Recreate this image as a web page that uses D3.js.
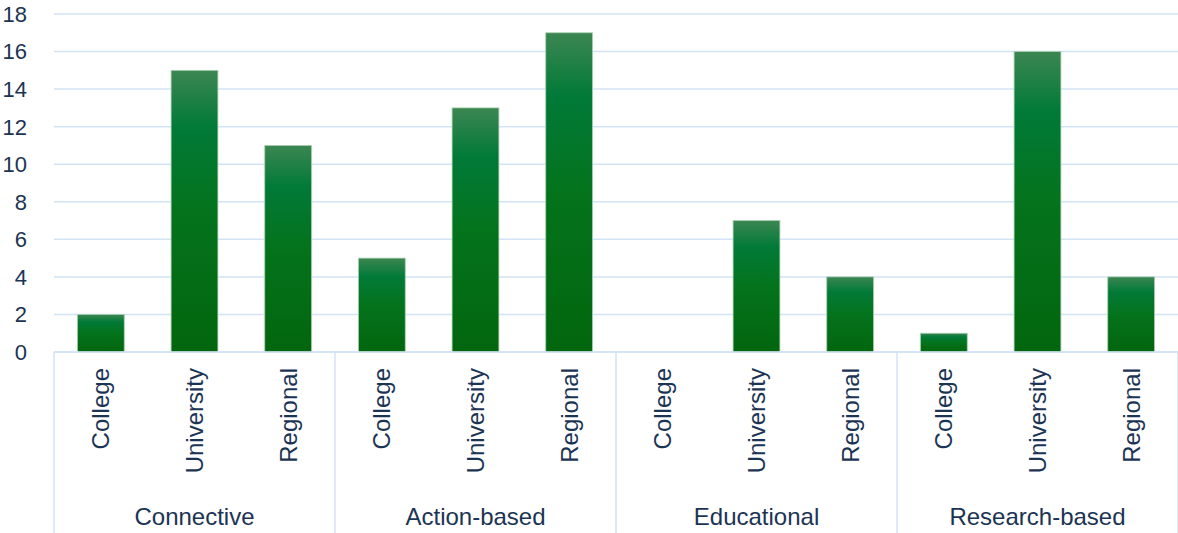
<!DOCTYPE html>
<html>
<head>
<meta charset="utf-8">
<script src="https://cdn.jsdelivr.net/npm/d3@7"></script>
<style>
  body { margin: 0; background: #fff; }
  text { font-family: "Liberation Sans", Arial, sans-serif; fill: #1c3454; }
</style>
</head>
<body>
<svg id="chart" width="1178" height="533"></svg>
<script>
const groups = ["Connective", "Action-based", "Educational", "Research-based"];
const types = ["College", "University", "Regional"];
const connective = [2, 15, 11];
const actionBased = [5, 13, 17];
const educational = [0, 7, 4];
const researchBased = [1, 16, 4];
const yTicks = [0, 2, 4, 6, 8, 10, 12, 14, 16, 18];

const seriesByGroup = [connective, actionBased, educational, researchBased];
const data = [];
groups.forEach((g, gi) => {
  types.forEach((t, ti) => {
    data.push({ key: g + "|" + t, group: g, type: t, value: seriesByGroup[gi][ti] });
  });
});

const margin = { top: 14, right: 0, bottom: 181, left: 54 };
const width = 1178 - margin.left - margin.right;
const height = 533 - margin.top - margin.bottom;

const svg = d3.select("#chart");

const defs = svg.append("defs");
const grad = defs.append("linearGradient")
  .attr("id", "barGrad")
  .attr("x1", 0).attr("y1", 0).attr("x2", 0).attr("y2", 1);
grad.append("stop").attr("offset", "0%").attr("stop-color", "#3c8652");
grad.append("stop").attr("offset", "20%").attr("stop-color", "#017a38");
grad.append("stop").attr("offset", "50%").attr("stop-color", "#04731c");
grad.append("stop").attr("offset", "100%").attr("stop-color", "#02660e");

const g = svg.append("g").attr("transform", `translate(${margin.left},${margin.top})`);

const x = d3.scaleBand().domain(data.map(d => d.key)).range([0, width]).paddingInner(0.5).paddingOuter(0.25);
const xGroup = d3.scaleBand().domain(groups).range([0, width]);
const y = d3.scaleLinear().domain([0, 18]).range([height, 0]);

// gridlines
g.append("g")
  .selectAll("line")
  .data(yTicks)
  .join("line")
  .attr("x1", 0).attr("x2", width)
  .attr("y1", d => y(d)).attr("y2", d => y(d))
  .attr("stroke", "#d3e3f6")
  .attr("stroke-width", 1.5);

// y labels
g.append("g")
  .selectAll("text")
  .data(yTicks)
  .join("text")
  .attr("x", -27)
  .attr("y", d => y(d))
  .attr("dy", "0.36em")
  .attr("text-anchor", "end")
  .attr("font-size", 22)
  .text(d => d);

// bars
g.append("g")
  .selectAll("rect")
  .data(data.filter(d => d.value > 0))
  .join("rect")
  .attr("x", d => x(d.key))
  .attr("width", x.bandwidth())
  .attr("y", d => y(d.value))
  .attr("height", d => y(0) - y(d.value))
  .attr("fill", "url(#barGrad)")
  .attr("stroke", "#a9d0b0")
  .attr("stroke-width", 0.8);

// category axis
const axis = g.append("g").attr("transform", `translate(0,${height})`);
axis.append("line")
  .attr("x1", 0).attr("x2", width)
  .attr("stroke", "#d3e3f6").attr("stroke-width", 1.5);
axis.selectAll("line.sep")
  .data(groups.map(d => xGroup(d)).concat([width]))
  .join("line")
  .attr("class", "sep")
  .attr("x1", d => d).attr("x2", d => d)
  .attr("y1", 0).attr("y2", margin.bottom)
  .attr("stroke", "#d3e3f6").attr("stroke-width", 1.5);

axis.selectAll("text.cat")
  .data(data)
  .join("text")
  .attr("class", "cat")
  .attr("transform", d => `translate(${x(d.key) + x.bandwidth() / 2},16) rotate(-90)`)
  .attr("dy", "0.36em")
  .attr("text-anchor", "end")
  .attr("font-size", 24)
  .text(d => d.type);

axis.selectAll("text.grp")
  .data(groups)
  .join("text")
  .attr("class", "grp")
  .attr("x", d => xGroup(d) + xGroup.bandwidth() / 2)
  .attr("y", 164)
  .attr("dy", "0.36em")
  .attr("text-anchor", "middle")
  .attr("font-size", 24)
  .text(d => d);
</script>
</body>
</html>
